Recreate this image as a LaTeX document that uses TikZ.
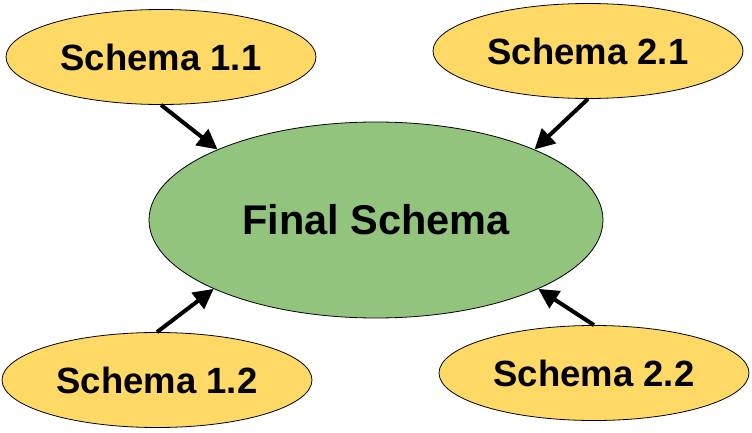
\documentclass[tikz,border=0pt]{standalone}
\usepackage{fontspec}
\setmainfont{Liberation Sans}
\usetikzlibrary{shapes.geometric,arrows.meta}
\definecolor{schemayellow}{HTML}{FFD966}
\definecolor{finalgreen}{HTML}{93C47D}
\begin{document}
\begin{tikzpicture}[x=1pt,y=-1pt,
  schemabox/.style={ellipse,draw=black,line width=0.8pt,fill=schemayellow,
    minimum width=310pt,minimum height=95pt,inner sep=0pt,
    font=\fontsize{36.5}{40}\selectfont\bfseries},
  finalbox/.style={ellipse,draw=black,line width=0.8pt,fill=finalgreen,
    minimum width=454pt,minimum height=196pt,inner sep=0pt,
    font=\fontsize{41.5}{46}\selectfont\bfseries},
  conn/.style={line width=4pt,-{Triangle[length=20pt,width=20pt]}}]
\useasboundingbox (0,0) rectangle (752,433);
\node[finalbox] (f) at (376,220) {Final Schema};
\node[schemabox] (s11) at (161,57) {Schema 1.1};
\node[schemabox] (s21) at (588,51) {Schema 2.1};
\node[schemabox] (s12) at (157,380) {Schema 1.2};
\node[schemabox] (s22) at (594,373) {Schema 2.2};
\draw[conn] (s11.south) -- (f.156);
\draw[conn] (s21.south) -- (f.24);
\draw[conn] (s12.north) -- (f.203);
\draw[conn] (s22.north) -- (f.337);
\end{tikzpicture}
\end{document}
